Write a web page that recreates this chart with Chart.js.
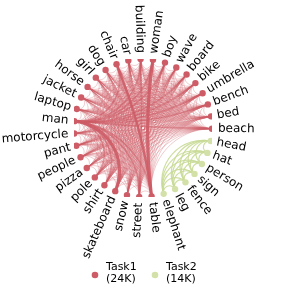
<!DOCTYPE html>
<html><head><meta charset="utf-8">
<script src="https://cdn.jsdelivr.net/npm/chart.js@4"></script>
<style>html,body{margin:0;padding:0;background:#fff}canvas{display:block}</style>
</head><body>
<canvas id="c" width="287" height="294"></canvas>
<script>
// Nodes in clockwise order starting near the top
const nodeNames = ["building","woman","boy","wave","board","bike","umbrella","bench","bed","beach",
  "head","hat","person","sign","fence","leg","elephant",
  "table","street","snow","skateboard","shirt","pole","pizza","people","pant","motorcycle","man",
  "laptop","jacket","horse","girl","dog","chair","car"];
const task2Nodes = ["head","hat","person","sign","fence","leg","elephant"];
const taskNames = ["Task1","Task2"];
const taskSizes = ["(24K)","(14K)"];
const taskColors = ["#cd5c66","#d3e1a8"];

// Task1 co-occurrence links: [source, "targets"]
const task1Links = [
  ["man","woman boy wave board bike umbrella bench bed beach table street snow skateboard shirt pole pizza people pant motorcycle laptop jacket horse girl dog chair car building"],
  ["woman","boy wave board bike umbrella bench bed beach table street snow skateboard shirt pole pizza people pant motorcycle laptop jacket horse girl dog chair car"],
  ["building","boy wave board bike umbrella bench bed beach table street snow skateboard shirt pole pizza people pant motorcycle laptop jacket horse girl dog car chair"],
  ["boy","wave board bike umbrella bench bed beach table street snow skateboard shirt pole pizza people pant laptop jacket horse girl dog car chair"],
  ["car","wave board bike umbrella bench bed beach table street snow skateboard shirt pole pizza people pant motorcycle laptop jacket horse dog girl chair"],
  ["chair","wave board bike umbrella bench bed beach table street snow skateboard shirt pole pizza people pant motorcycle laptop jacket horse girl dog"],
  ["dog","wave board bike umbrella bench bed beach table street snow skateboard shirt pole pizza people pant laptop jacket horse girl"],
  ["girl","wave board bike umbrella bench bed beach table street snow skateboard shirt pole pizza people pant motorcycle jacket horse"],
  ["horse","wave board bike umbrella bench bed beach table street snow skateboard shirt pole people pant motorcycle jacket"],
  ["jacket","wave board bike umbrella bench bed beach table street snow skateboard shirt pole pizza people pant laptop"],
  ["laptop","wave board bike umbrella bench bed beach table street shirt pole pizza people pant motorcycle"],
  ["motorcycle","wave board bike umbrella bench beach table street snow skateboard shirt pole people pant"],
  ["pant","wave board bike umbrella bench bed beach table street snow skateboard shirt pole people"],
  ["people","wave board bike umbrella bench bed beach table street snow skateboard shirt pole pizza"],
  ["pizza","wave board bike umbrella bench bed beach table street shirt pole"],
  ["pole","wave board bike umbrella bench bed beach table street snow skateboard"],
  ["shirt","wave board bike umbrella bench bed beach table street snow"],
  ["skateboard","wave board bike umbrella bench bed beach table street"],
  ["snow","wave board bike umbrella bench bed beach table"],
  ["street","wave board bike umbrella bench bed beach table"],
  ["table","wave board bike umbrella bench bed beach"],
  ["wave","board bike bench beach umbrella"],
  ["board","bike umbrella bench bed beach"],
  ["bike","umbrella bench bed beach"],
  ["umbrella","bench bed beach"],
  ["bench","bed beach"]
];
// Stronger Task1 links: [a, b, weight]
const task1Heavy = [
  ["man","skateboard",4],["woman","table",4],["chair","table",3],
  ["man","woman",2],["man","boy",2],["man","board",2],["man","bike",2],["man","umbrella",2],
  ["man","bench",2],["man","beach",2],["man","table",2],["man","street",2],["man","building",2],
  ["man","chair",2],["man","pole",2],["man","shirt",2],["building","street",2]
];
// Task2 links
const task2Edges = [
  ["head","hat"],["head","person"],["head","sign"],["head","fence"],["head","leg"],["head","elephant"],
  ["hat","person"],["hat","sign"],["hat","fence"],["hat","leg"],["hat","elephant"],
  ["person","sign"],["person","fence"],["person","leg"],["person","elephant"],
  ["sign","fence"],["sign","leg"],["sign","elephant"],
  ["fence","leg"],["fence","elephant"],
  ["leg","elephant"]
];

const START_DEG = -2;
const STEP_DEG = 360 / nodeNames.length;
const angleOf = name => (START_DEG + nodeNames.indexOf(name) * STEP_DEG) * Math.PI / 180;
const taskOf = name => task2Nodes.includes(name) ? 1 : 0;

const nodePoints = nodeNames.map(n => ({x: Math.sin(angleOf(n)), y: Math.cos(angleOf(n)), name: n}));

function px(chart, name) {
  const a = angleOf(name);
  return {x: chart.scales.x.getPixelForValue(Math.sin(a)), y: chart.scales.y.getPixelForValue(Math.cos(a))};
}

const chordPlugin = {
  id: 'chords',
  beforeDatasetsDraw(chart) {
    const ctx = chart.ctx;
    const cx = chart.scales.x.getPixelForValue(0), cy = chart.scales.y.getPixelForValue(0);
    const R = chart.scales.x.getPixelForValue(1) - cx;
    const heavy = {};
    task1Heavy.forEach(([a,b,w]) => { heavy[a+'|'+b] = w; heavy[b+'|'+a] = w; });
    const drawEdge = (a, b, w, color) => {
      const p = px(chart, a), q = px(chart, b);
      let d = Math.abs(angleOf(a) - angleOf(b));
      if (d > Math.PI) d = 2 * Math.PI - d;
      ctx.beginPath();
      ctx.moveTo(p.x, p.y);
      if (d < Math.PI - 0.02) ctx.arcTo(cx, cy, q.x, q.y, R * Math.tan(d / 2));
      ctx.lineTo(q.x, q.y);
      ctx.lineWidth = w;
      ctx.strokeStyle = color;
      ctx.stroke();
    };
    ctx.save();
    const light = [];
    task1Links.forEach(([s, ts]) => ts.split(' ').forEach(t => light.push([s, t])));
    light.forEach(([a,b]) => { if (!heavy[a+'|'+b]) drawEdge(a, b, 0.9, 'rgba(205,92,102,0.36)'); });
    task1Heavy.forEach(([a,b,w]) => drawEdge(a, b, w * 0.8, w > 2 ? 'rgba(205,92,102,0.9)' : 'rgba(205,92,102,0.6)'));
    task2Edges.forEach(([a,b]) => drawEdge(a, b, 1.2, 'rgba(200,218,150,0.9)'));
    ctx.restore();
  },
  afterDatasetsDraw(chart) {
    const ctx = chart.ctx;
    const cx = chart.scales.x.getPixelForValue(0), cy = chart.scales.y.getPixelForValue(0);
    const R = chart.scales.x.getPixelForValue(1) - cx + 6;
    ctx.save();
    ctx.font = '12px "DejaVu Sans"';
    ctx.fillStyle = '#000';
    ctx.textBaseline = 'middle';
    nodeNames.forEach(n => {
      let deg = ((START_DEG + nodeNames.indexOf(n) * STEP_DEG) % 360 + 360) % 360;
      const phi = (deg - 90) * Math.PI / 180;
      const x = cx + R * Math.cos(phi), y = cy + R * Math.sin(phi);
      ctx.save();
      ctx.translate(x, y);
      if (deg < 180) { ctx.rotate(phi); ctx.textAlign = 'left'; }
      else { ctx.rotate(phi + Math.PI); ctx.textAlign = 'right'; }
      ctx.fillText(n, 0, 0);
      ctx.restore();
    });
    // legend
    ctx.font = '11px "DejaVu Sans"';
    ctx.textAlign = 'left';
    const lx = [95, 155];
    taskNames.forEach((t, i) => {
      ctx.beginPath();
      ctx.arc(lx[i], 275, 3.3, 0, Math.PI * 2);
      ctx.fillStyle = taskColors[i];
      ctx.fill();
      ctx.fillStyle = '#000';
      ctx.fillText(t, lx[i] + 11, 267);
      ctx.fillText(taskSizes[i], lx[i] + 11, 279.5);
    });
    ctx.restore();
  }
};

new Chart(document.getElementById('c'), {
  type: 'scatter',
  data: {
    datasets: [{
      data: nodePoints,
      pointRadius: 3.2,
      pointHoverRadius: 3.2,
      pointBorderWidth: 0,
      pointBackgroundColor: nodeNames.map(n => taskColors[taskOf(n)]),
      pointBorderColor: nodeNames.map(n => taskColors[taskOf(n)])
    }]
  },
  options: {
    responsive: false,
    animation: false,
    devicePixelRatio: 1,
    layout: {padding: {left: 74, right: 75, top: 59, bottom: 97}},
    plugins: {legend: {display: false}, tooltip: {enabled: false}},
    scales: {
      x: {type: 'linear', min: -1, max: 1, display: false},
      y: {type: 'linear', min: -1, max: 1, display: false}
    }
  },
  plugins: [chordPlugin]
});
</script>
</body></html>
